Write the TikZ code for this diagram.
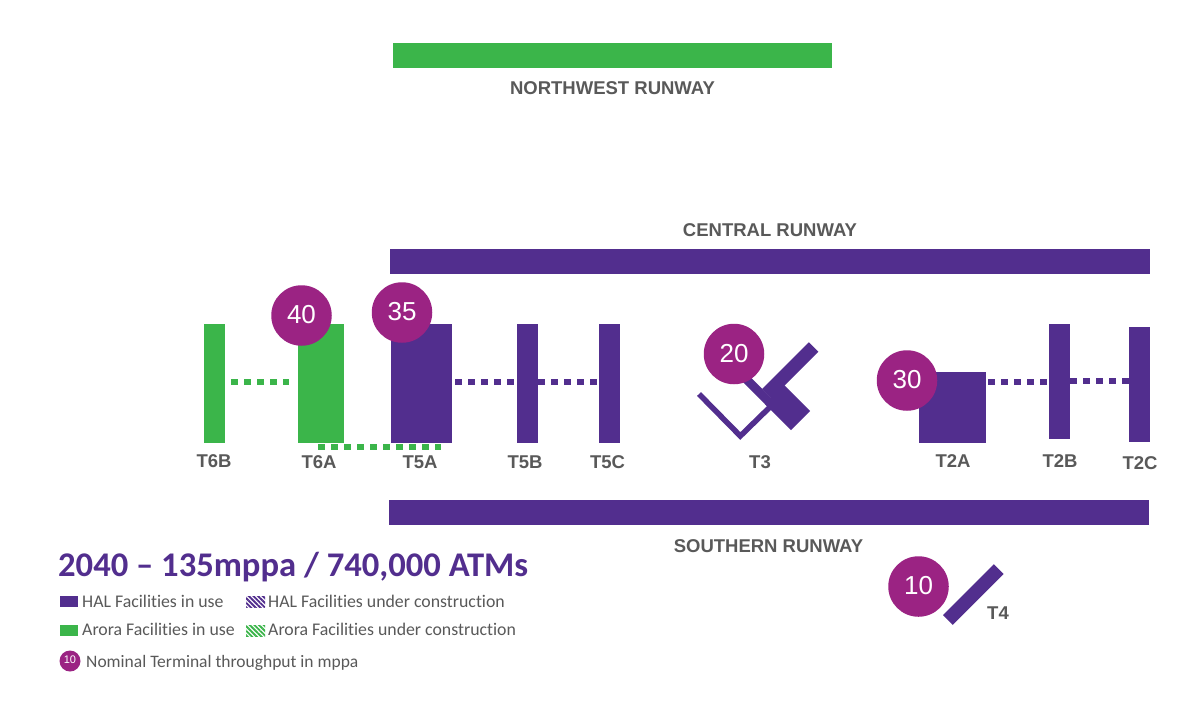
\documentclass[tikz,border=0pt]{standalone}
\usepackage{fontspec}
\setmainfont{Liberation Sans}
\newfontfamily\legendfont[Ligatures=NoCommon]{Carlito}
\usepackage{xcolor}
\definecolor{halPurple}{HTML}{522E8E}
\definecolor{aroraGreen}{HTML}{3BB54A}
\definecolor{ratePurple}{HTML}{9B2383}
\definecolor{labelGrey}{HTML}{595959}
\usetikzlibrary{patterns.meta}
\tikzset{
  halbox/.style={fill=halPurple, inner sep=0pt},
  arorabox/.style={fill=aroraGreen, inner sep=0pt},
  halworks/.style={draw=halPurple, line width=6pt, dash pattern=on 6.5pt off 6.5pt},
  aroraworks/.style={draw=aroraGreen, line width=6pt, dash pattern=on 6.5pt off 6.5pt},
  hatchbox/.style={inner sep=0pt, minimum width=19pt, minimum height=11pt, pattern={Lines[angle=-45, distance=3.3pt, line width=1.9pt]}},
  rate/.style={circle, fill=ratePurple, text=white, minimum size=60.5pt, inner sep=0pt, text depth=2pt, font=\fontsize{26}{26}\selectfont},
  termlabel/.style={text=labelGrey, inner sep=0pt, font=\fontsize{18.5}{18.5}\selectfont\bfseries},
  legendtext/.style={text=labelGrey, anchor=west, inner sep=0pt, font=\legendfont\fontsize{17.8}{18}\selectfont},
}
\begin{document}
\begin{tikzpicture}[x=1pt, y=-1pt]
  \useasboundingbox (0,0) rectangle (1196,716);
  \fill[white] (0,0) rectangle (1196,716);
  % runways
  \node[arorabox, minimum width=439pt, minimum height=25pt] (NWR) at (612.5,55.5) {};
  \node[halbox, minimum width=760pt, minimum height=25pt] (CR) at (770,261.5) {};
  \node[halbox, minimum width=760pt, minimum height=25pt] (SR) at (769,512.5) {};
  \node[termlabel] (NWRl) at (612.5,88) {NORTHWEST RUNWAY};
  \node[termlabel] (CRl) at (770,230) {CENTRAL RUNWAY};
  \node[termlabel] (SRl) at (768.5,546) {SOUTHERN RUNWAY};
  % terminals
  \node[arorabox, minimum width=21pt, minimum height=119pt] (T6B) at (214.5,383.5) {};
  \node[arorabox, minimum width=46pt, minimum height=119pt] (T6A) at (321,383.5) {};
  \node[halbox, minimum width=61pt, minimum height=119pt] (T5A) at (421.5,383.5) {};
  \node[halbox, minimum width=21pt, minimum height=119pt] (T5B) at (527.5,383.5) {};
  \node[halbox, minimum width=21pt, minimum height=119pt] (T5C) at (609.5,383.5) {};
  \node[halbox, minimum width=67pt, minimum height=71pt] (T2A) at (952.5,407.5) {};
  \node[halbox, minimum width=21pt, minimum height=115pt] (T2B) at (1059.5,381.5) {};
  \node[halbox, minimum width=21pt, minimum height=115pt] (T2C) at (1139.5,384.5) {};
  % T3 and T4
  \draw[halPurple, line width=5.5pt] (699,394) -- (740.3,436) -- (770,407);
  \node[halbox, rotate=-45, minimum width=35pt, minimum height=8.8pt] (T3s) at (758.6,391.4) {};
  \node[halbox, rotate=45, minimum width=66pt, minimum height=13.4pt] (T3a) at (790.3,370.4) {};
  \node[halbox, rotate=-45, minimum width=36.8pt, minimum height=26.9pt] (T3b) at (787.5,407.5) {};
  \node[halbox, rotate=45, minimum width=72pt, minimum height=13.7pt] (T4) at (973.3,594.5) {};
  % under construction
  \draw[aroraworks, shorten <=6pt, shorten >=9pt] ([yshift=1.5pt]T6B.east) -- ([yshift=1.5pt]T6A.west);
  \draw[aroraworks] ([xshift=-3pt, yshift=-3.5pt]T6A.south) -- ([xshift=19pt, yshift=-3.5pt]T5A.south);
  \draw[halworks, shorten <=3pt] ([yshift=1.5pt]T5A.east) -- ([yshift=1.5pt]T5B.west);
  \draw[halworks] ([yshift=1.5pt]T5B.east) -- ([yshift=1.5pt]T5C.west);
  \draw[halworks, shorten <=2pt, shorten >=2pt] (T2A.east |- T2B.west) -- (T2B.west);
  \draw[halworks] ([yshift=3.5pt]T2B.east |- T2C.west) -- ([yshift=3.5pt]T2C.west);
  % throughput
  \node[rate] (r40) at (301.5,315.5) {40};
  \node[rate] (r35) at (402,312.5) {35};
  \node[rate] (r20) at (734,354) {20};
  \node[rate] (r30) at (907,380.5) {30};
  \node[rate] (r10) at (918.5,586.5) {10};
  % terminal names
  \node[termlabel] (T6Bl) at (214,461) {T6B};
  \node[termlabel] (T6Al) at (319,462) {T6A};
  \node[termlabel] (T5Al) at (420,462) {T5A};
  \node[termlabel] (T5Bl) at (525,462) {T5B};
  \node[termlabel] (T5Cl) at (607.5,462) {T5C};
  \node[termlabel] (T3l) at (760,462) {T3};
  \node[termlabel] (T2Al) at (953,461) {T2A};
  \node[termlabel] (T2Bl) at (1060,461) {T2B};
  \node[termlabel] (T2Cl) at (1140,463) {T2C};
  \node[termlabel] (T4l) at (998,613) {T4};
  % legend
  \node[anchor=west, inner sep=0pt, text=halPurple, font=\legendfont\fontsize{34.6}{36}\selectfont\bfseries] (title) at (58,567) {2040 – 135mppa / 740,000 ATMs};
  \node[halbox, minimum width=18pt, minimum height=11pt] (k1) at (69,601.5) {};
  \node[legendtext] (k1l) at (82,601.5) {HAL Facilities in use};
  \node[hatchbox, pattern color=halPurple] (k2) at (255.5,601.5) {};
  \node[legendtext] (k2l) at (268,601.5) {HAL Facilities under construction};
  \node[arorabox, minimum width=18pt, minimum height=11pt] (k3) at (69,630.5) {};
  \node[legendtext] (k3l) at (82,629.5) {Arora Facilities in use};
  \node[hatchbox, pattern color=aroraGreen] (k4) at (255.5,630.5) {};
  \node[legendtext] (k4l) at (268,629.5) {Arora Facilities under construction};
  \node[rate, minimum size=21pt, font=\fontsize{11}{11}\selectfont] (k5) at (70,661) {10};
  \node[legendtext, font=\legendfont\fontsize{17.5}{18}\selectfont] (k5l) at (86,663) {Nominal Terminal throughput in mppa};
\end{tikzpicture}
\end{document}
